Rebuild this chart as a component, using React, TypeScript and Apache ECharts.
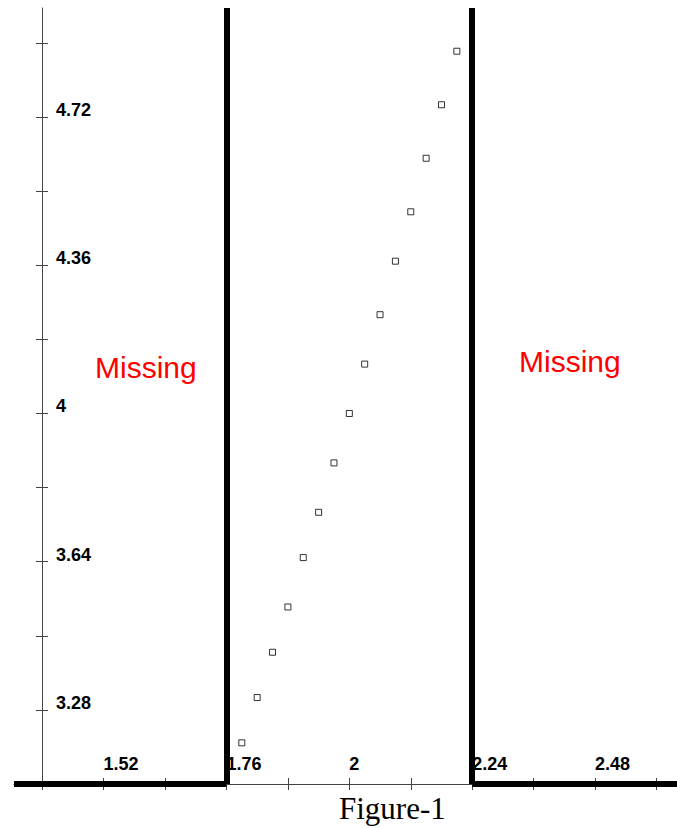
import React, { useEffect, useRef } from "react";
import * as echarts from "echarts";

const xValues = [1.79, 1.82, 1.85, 1.88, 1.91, 1.94, 1.97, 2.0, 2.03, 2.06, 2.09, 2.12, 2.15, 2.18, 2.21];
const yValues = [3.2, 3.31, 3.42, 3.53, 3.65, 3.76, 3.88, 4.0, 4.12, 4.24, 4.37, 4.49, 4.62, 4.75, 4.88];
const xTicks = [1.4, 1.52, 1.64, 1.76, 1.88, 2.0, 2.12, 2.24, 2.36, 2.48, 2.6];
const xTickLabels = [1.52, 1.76, 2, 2.24, 2.48];
const yTicks = [3.28, 3.46, 3.64, 3.82, 4.0, 4.18, 4.36, 4.54, 4.72, 4.9];
const yTickLabels = [3.28, 3.64, 4, 4.36, 4.72];
const boundaries = [1.76, 2.24];
const xMin = 1.345;
const xMax = 2.64;
const yMin = 3.1;
const yMax = 4.985;
const missingLabels = ["Missing", "Missing"];
const caption = "Figure-1";

export default function App() {
  const ref = useRef<HTMLDivElement>(null);
  useEffect(() => {
    if (!ref.current) return;
    const chart = echarts.init(ref.current, null, { renderer: "svg" });
    const labelFont = {
      fontFamily: "Liberation Sans",
      fontWeight: "bold" as const,
      fontSize: 18,
      color: "#000",
    };
    const axisColor = "#444";
    const baseX = {
      type: "value" as const,
      min: xMin,
      max: xMax,
      position: "bottom" as const,
      splitLine: { show: false },
    };
    const baseY = {
      type: "value" as const,
      min: yMin,
      max: yMax,
      position: "left" as const,
      offset: -28,
      splitLine: { show: false },
    };
    chart.setOption({
      animation: false,
      backgroundColor: "#fff",
      grid: { left: 14, right: 0, top: 8, bottom: 44, containLabel: false },
      xAxis: [
        {
          ...baseX,
          axisLine: { show: true, onZero: false, lineStyle: { color: axisColor, width: 1 } },
          axisTick: { show: true, inside: true, length: 6, customValues: xTicks, lineStyle: { color: axisColor } },
          axisLabel: {
            show: true,
            inside: true,
            customValues: xTickLabels,
            align: "left",
            verticalAlign: "bottom",
            lineHeight: 14,
            margin: 13,
            formatter: (v: number) => String(v),
            ...labelFont,
          },
        },
        {
          ...baseX,
          axisLine: { show: false, onZero: false },
          axisTick: { show: true, inside: false, length: 6, customValues: xTicks, lineStyle: { color: axisColor } },
          axisLabel: { show: false },
        },
      ],
      yAxis: [
        {
          ...baseY,
          axisLine: { show: true, onZero: false, lineStyle: { color: axisColor, width: 1 } },
          axisTick: { show: true, inside: true, length: 6, customValues: yTicks, lineStyle: { color: axisColor } },
          axisLabel: {
            show: true,
            inside: true,
            customValues: yTickLabels,
            align: "left",
            verticalAlign: "bottom",
            lineHeight: 14,
            margin: 14,
            formatter: (v: number) => String(v),
            ...labelFont,
          },
        },
        {
          ...baseY,
          axisLine: { show: false, onZero: false },
          axisTick: { show: true, inside: false, length: 6, customValues: yTicks, lineStyle: { color: axisColor } },
          axisLabel: { show: false },
        },
      ],
      series: [
        {
          type: "scatter",
          xAxisIndex: 0,
          yAxisIndex: 0,
          symbol: "rect",
          symbolSize: 6,
          itemStyle: { color: "#fff", borderColor: "#000", borderWidth: 1 },
          data: xValues.map((x, i) => [x, yValues[i]]),
          z: 5,
          markLine: {
            silent: true,
            symbol: ["none", "none"],
            label: { show: false },
            lineStyle: { color: "#000", width: 6, type: "solid" },
            data: [
              { xAxis: boundaries[0] },
              { xAxis: boundaries[1] },
              [{ coord: [xMin, yMin] }, { coord: [boundaries[0], yMin] }],
              [{ coord: [boundaries[1], yMin] }, { coord: [xMax, yMin] }],
            ],
          },
        },
      ],
      graphic: [
        {
          type: "text",
          left: 95,
          top: 352,
          style: { text: missingLabels[0], fill: "#ff0000", fontFamily: "Liberation Sans", fontSize: 30 },
        },
        {
          type: "text",
          left: 519,
          top: 346,
          style: { text: missingLabels[1], fill: "#ff0000", fontFamily: "Liberation Sans", fontSize: 30 },
        },
        {
          type: "text",
          left: 339,
          top: 793,
          style: { text: caption, fill: "#000", fontFamily: "Liberation Serif", fontSize: 31 },
        },
      ],
    });
    return () => chart.dispose();
  }, []);
  return (
    <div
      ref={ref}
      style={{ position: "absolute", left: 0, top: 0, width: 677, height: 828, background: "#fff" }}
    />
  );
}
